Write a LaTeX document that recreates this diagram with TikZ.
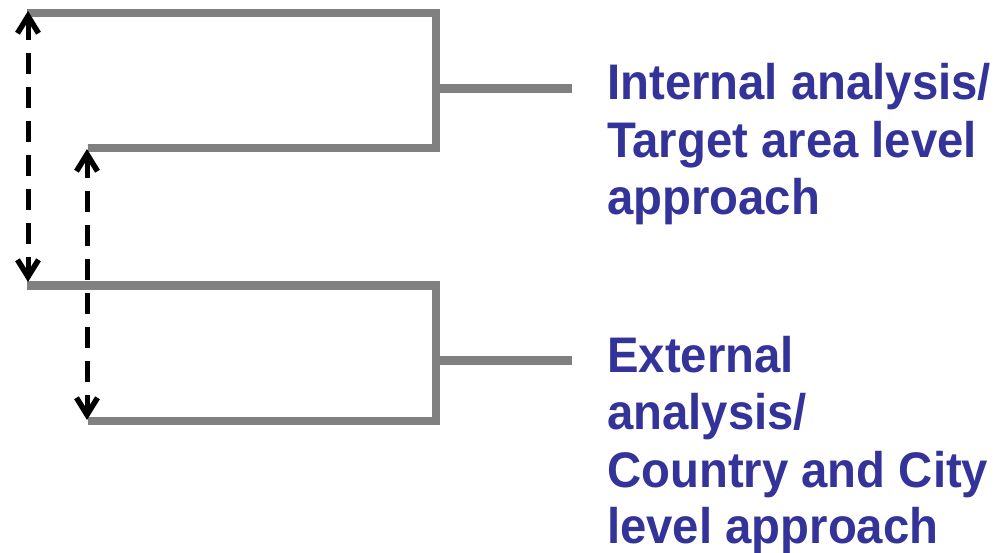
\documentclass[tikz,border=0pt]{standalone}
\usepackage{fontspec}
\setmainfont[FakeStretch=0.946]{Liberation Sans}
\usetikzlibrary{arrows.meta}
\definecolor{bracketgray}{HTML}{808080}
\definecolor{labelblue}{HTML}{333399}
\tikzset{
  bracket/.style={draw=bracketgray, line width=8.5pt, line join=miter},
  dasharrow/.style={draw=black, line width=5pt, dash pattern=on 21pt off 13pt,
     {Straight Barb[length=17pt,width=21pt,line width=5.5pt 0]}-{Straight Barb[length=17pt,width=21pt,line width=5.5pt 0]}},
  labeltext/.style={anchor=base west, inner sep=0pt, text=labelblue,
     font=\fontsize{50pt}{57.5pt}\selectfont\bfseries}
}
\begin{document}
\begin{tikzpicture}[x=1pt,y=-1pt]
\useasboundingbox (0,0) rectangle (1002,553);
% top bracket
\coordinate (a1) at (27,13);
\coordinate (a2) at (436,13);
\coordinate (a3) at (436,148);
\coordinate (a4) at (88,148);
\coordinate (am) at (436,88.5);
\coordinate (ae) at (572,88.5);
% bottom bracket
\coordinate (b1) at (27,285.5);
\coordinate (b2) at (436,285.5);
\coordinate (b3) at (436,421);
\coordinate (b4) at (88,421);
\coordinate (bm) at (436,360.5);
\coordinate (be) at (572,360.5);
\draw[bracket] (a1) -- (a2) -- (a3) -- (a4);
\draw[bracket] (am) -- (ae);
\draw[bracket] (b1) -- (b2) -- (b3) -- (b4);
\draw[bracket] (bm) -- (be);
% arrows
\coordinate (p1) at (28,11);
\coordinate (p2) at (28,282);
\coordinate (q1) at (87,149);
\coordinate (q2) at (87,420);
\draw[dasharrow] (p1) -- (p2);
\draw[dasharrow] (q1) -- (q2);
% labels
\node[labeltext] (t1) at (607,100) {Internal analysis/};
\node[labeltext] (t2) at (607,157.5) {Target area level};
\node[labeltext] (t3) at (607,215) {approach};
\node[labeltext] (u1) at (607,373) {External};
\node[labeltext] (u2) at (607,430) {analysis/};
\node[labeltext] (u3) at (607,487) {Country and City};
\node[labeltext] (u4) at (607,543) {level approach};
\end{tikzpicture}
\end{document}
